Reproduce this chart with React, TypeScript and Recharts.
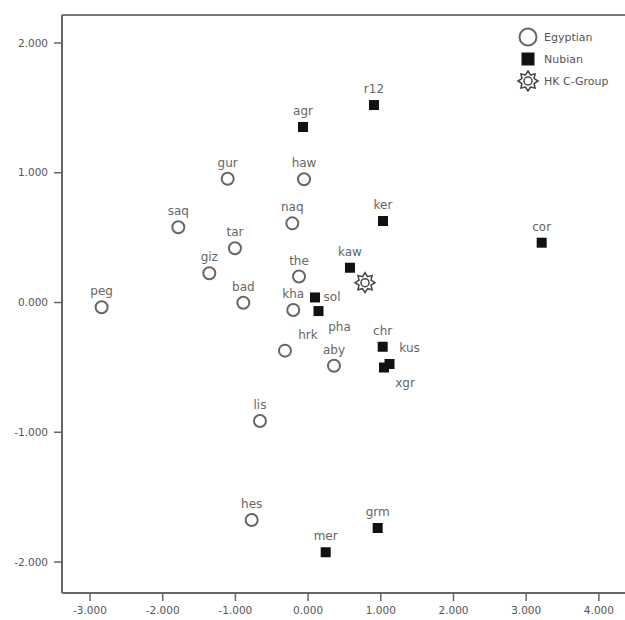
import React from 'react';
import { ScatterChart, Scatter, XAxis, YAxis, ReferenceLine, Legend } from 'recharts';

// ---- data ----
const egyptianNames = ['peg', 'saq', 'gur', 'haw', 'naq', 'tar', 'giz', 'the', 'bad', 'kha', 'hrk', 'aby', 'lis', 'hes'];
const egyptianX = [-2.84, -1.785, -1.106, -0.056, -0.217, -1.006, -1.359, -0.125, -0.891, -0.204, -0.318, 0.356, -0.662, -0.776];
const egyptianY = [-0.037, 0.58, 0.954, 0.95, 0.61, 0.418, 0.225, 0.2, -0.002, -0.058, -0.371, -0.487, -0.913, -1.676];

const nubianNames = ['agr', 'r12', 'ker', 'cor', 'kaw', 'sol', 'pha', 'chr', 'kus', 'xgr', 'grm', 'mer'];
const nubianX = [-0.07, 0.906, 1.03, 3.213, 0.576, 0.095, 0.143, 1.026, 1.12, 1.044, 0.957, 0.242];
const nubianY = [1.353, 1.522, 0.628, 0.461, 0.268, 0.039, -0.066, -0.341, -0.474, -0.501, -1.738, -1.925];

const hkNames = ['HK C-Group'];
const hkX = [0.783];
const hkY = [0.153];

const seriesNames = ['Egyptian', 'Nubian', 'HK C-Group'];

const xTicks = [-3, -2, -1, 0, 1, 2, 3, 4];
const yTicks = [-2, -1, 0, 1, 2];

const X_MIN = -3.385;
const X_MAX = 4.359;
const Y_MIN = -2.239;
const Y_MAX = 2.216;

// label placement (style only): [dx, dy] of label centre from marker
const labelPlacement: Record<string, [number, number]> = {
  sol: [17, 0],
  pha: [21, 16],
  hrk: [23, -16],
  kus: [20, -16],
  xgr: [21, 15],
};

const egyptianData = egyptianNames.map((name, i) => ({ name, x: egyptianX[i], y: egyptianY[i] }));
const nubianData = nubianNames.map((name, i) => ({ name, x: nubianX[i], y: nubianY[i] }));
const hkData = hkNames.map((name, i) => ({ name, x: hkX[i], y: hkY[i] }));

const FONT = 'DejaVu Sans';

function PointLabel({ cx, cy, name }: { cx: number; cy: number; name: string }) {
  const [dx, dy] = labelPlacement[name] ?? [0, -16];
  return (
    <text x={cx + dx} y={cy + dy + 4} textAnchor="middle" fontSize={12} fill="#666" fontFamily={FONT}>
      {name}
    </text>
  );
}

function starPoints(cx: number, cy: number, ro: number, ri: number, n: number) {
  const pts: string[] = [];
  for (let i = 0; i < n * 2; i++) {
    const r = i % 2 === 0 ? ro : ri;
    const a = (Math.PI * i) / n - Math.PI / 2;
    pts.push(`${(cx + r * Math.cos(a)).toFixed(2)},${(cy + r * Math.sin(a)).toFixed(2)}`);
  }
  return pts.join(' ');
}

function StarIcon({ cx, cy }: { cx: number; cy: number }) {
  return (
    <g>
      <polygon points={starPoints(cx, cy, 10, 6.5, 8)} fill="#fff" stroke="#444" strokeWidth={1.5} />
      <circle cx={cx} cy={cy} r={4} fill="#fff" stroke="#444" strokeWidth={1.5} />
    </g>
  );
}

const circleShape = (props: any) => {
  const { cx, cy, payload } = props;
  return (
    <g>
      <circle cx={cx} cy={cy} r={6} fill="#fff" stroke="#666" strokeWidth={2} />
      <PointLabel cx={cx} cy={cy} name={payload.name} />
    </g>
  );
};

const squareShape = (props: any) => {
  const { cx, cy, payload } = props;
  return (
    <g>
      <rect x={cx - 5} y={cy - 5} width={10} height={10} fill="#111" />
      <PointLabel cx={cx} cy={cy} name={payload.name} />
    </g>
  );
};

const starShape = (props: any) => {
  const { cx, cy } = props;
  return <StarIcon cx={cx} cy={cy} />;
};

function LegendIcon({ kind }: { kind: string }) {
  if (kind === 'Egyptian') {
    return (
      <svg width={24} height={22}>
        <circle cx={12} cy={11} r={8.5} fill="#fff" stroke="#666" strokeWidth={2} />
      </svg>
    );
  }
  if (kind === 'Nubian') {
    return (
      <svg width={24} height={22}>
        <rect x={5.5} y={4.5} width={13} height={13} fill="#111" />
      </svg>
    );
  }
  return (
    <svg width={24} height={22}>
      <StarIcon cx={12} cy={11} />
    </svg>
  );
}

const legendContent = (props: any) => {
  const present = new Set((props.payload ?? []).map((p: any) => p.value));
  const items = seriesNames.filter((n) => present.size === 0 || present.has(n));
  return (
    <div style={{ fontFamily: FONT, fontSize: 11, color: '#555' }}>
      {items.map((v: string) => (
        <div key={v} style={{ display: 'flex', alignItems: 'center', height: 22 }}>
          <LegendIcon kind={v} />
          <span style={{ marginLeft: 4 }}>{v}</span>
        </div>
      ))}
    </div>
  );
};

export default function App() {
  return (
    <div style={{ position: 'absolute', left: 0, top: 0, background: '#fff' }}>
      <ScatterChart width={625} height={620} margin={{ top: 15, right: 0, bottom: 0, left: 0 }}>
        <XAxis
          type="number"
          dataKey="x"
          domain={[X_MIN, X_MAX]}
          ticks={xTicks}
          allowDataOverflow
          height={27}
          tickSize={8}
          tickMargin={6}
          tickFormatter={(v: number) => v.toFixed(3)}
          tick={{ fontSize: 10.5, fill: '#555', fontFamily: FONT }}
          axisLine={{ stroke: '#666', strokeWidth: 2 }}
          tickLine={{ stroke: '#666', strokeWidth: 1.5 }}
        />
        <YAxis
          type="number"
          dataKey="y"
          domain={[Y_MIN, Y_MAX]}
          ticks={yTicks}
          allowDataOverflow
          width={62}
          tickSize={8}
          tickMargin={6}
          tickFormatter={(v: number) => v.toFixed(3)}
          tick={{ fontSize: 10.5, fill: '#555', fontFamily: FONT }}
          axisLine={{ stroke: '#666', strokeWidth: 2 }}
          tickLine={{ stroke: '#666', strokeWidth: 1.5 }}
        />
        <ReferenceLine y={Y_MAX} stroke="#777" strokeWidth={2} />
        <Legend
          layout="vertical"
          align="center"
          verticalAlign="middle"
          wrapperStyle={{ top: 26, left: 516, width: 109 }}
          content={legendContent}
        />
        <Scatter name="Egyptian" data={egyptianData} shape={circleShape} fill="#fff" isAnimationActive={false} />
        <Scatter name="Nubian" data={nubianData} shape={squareShape} fill="#111" isAnimationActive={false} />
        <Scatter name="HK C-Group" data={hkData} shape={starShape} fill="#444" isAnimationActive={false} />
      </ScatterChart>
    </div>
  );
}
